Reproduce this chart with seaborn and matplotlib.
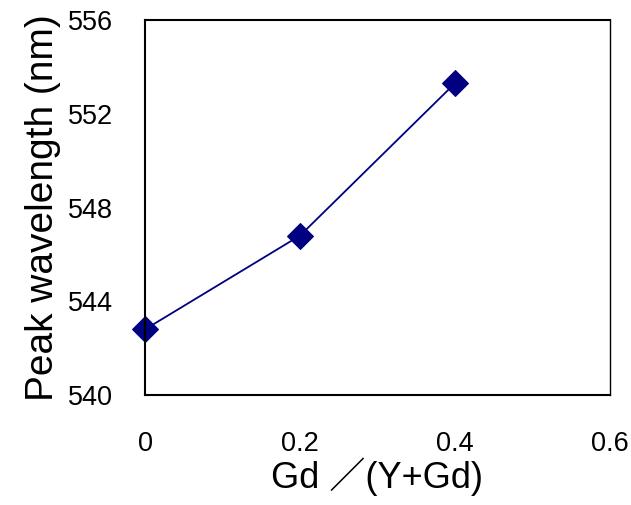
import matplotlib
matplotlib.use("Agg")
import matplotlib.pyplot as plt
import seaborn as sns
import pandas as pd

gd_ratio = [0.0, 0.2, 0.4]
peak_nm = [542.8, 546.8, 553.3]
x_ticks = [0, 0.2, 0.4, 0.6]
x_tick_labels = ["0", "0.2", "0.4", "0.6"]
y_ticks = [540, 544, 548, 552, 556]

sns.set_theme(style="white")
plt.rcParams['font.family'] = ['Liberation Sans', 'Noto Sans CJK JP', 'DejaVu Sans']
plt.rcParams['text.color'] = 'black'
plt.rcParams['axes.labelcolor'] = 'black'

df = pd.DataFrame({"x": gd_ratio, "y": peak_nm})
fig = plt.figure(figsize=(6.31, 5.05), dpi=100)
ax = fig.add_axes([0.2298, 0.2178, 0.9667 - 0.2298, 0.9604 - 0.2178])
sns.lineplot(data=df, x="x", y="y", ax=ax, color="#000080", linewidth=1.3,
             marker="D", markersize=13, markeredgecolor="#000080", markerfacecolor="#000080")
for ln in ax.lines:
    ln.set_clip_on(False)
ax.set_xlim(0, 0.6)
ax.set_ylim(540, 556)
ax.set_xticks(x_ticks)
ax.set_xticklabels(x_tick_labels)
ax.set_yticks(y_ticks)
ax.tick_params(axis="both", direction="in", length=7, width=1, color="#808080",
               labelsize=19.5, labelcolor="black")
ax.tick_params(axis="x", pad=26)
ax.tick_params(axis="y", pad=23)
for s in ax.spines.values():
    s.set_color("black")
    s.set_linewidth(1.5)
ax.spines["right"].set_linewidth(1.0)
ax.set_xlabel("Gd ／(Y+Gd)", fontsize=26, labelpad=0)
ax.set_ylabel("Peak wavelength (nm)", fontsize=28, labelpad=5)
fig.savefig("out.png", dpi=100)
